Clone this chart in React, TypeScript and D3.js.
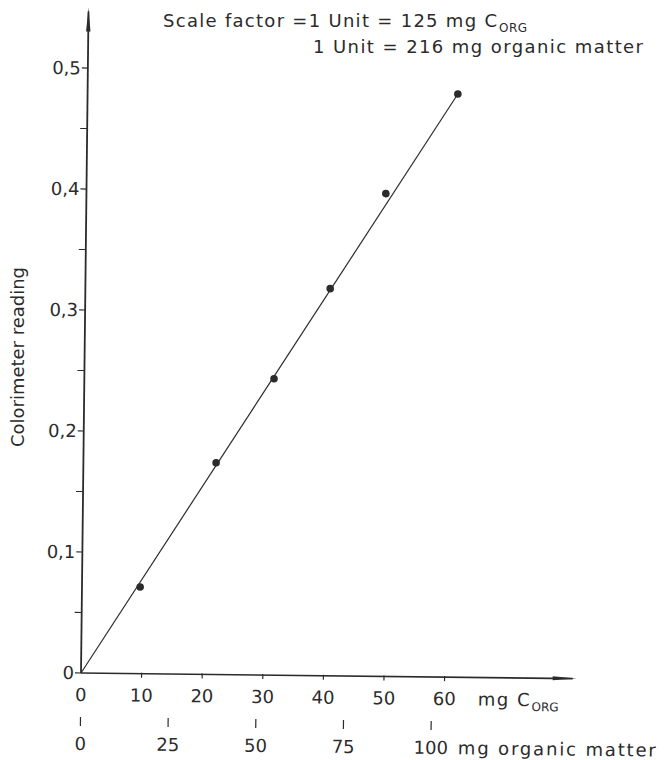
import React from "react";
import * as d3 from "d3";

// Data
const carbonMg: number[] = [9.6, 21.9, 31.3, 40.4, 49.4, 61.1];
const colorimeter: number[] = [0.0716, 0.175, 0.245, 0.32, 0.399, 0.482];
const fitX: number[] = [0, 61.1];
const fitY: number[] = [0, 0.482];
const yMajorTicks: number[] = [0, 0.1, 0.2, 0.3, 0.4, 0.5];
const yMinorTicks: number[] = [0.05, 0.15, 0.25, 0.35, 0.45];
const xTicks: number[] = [0, 10, 20, 30, 40, 50, 60];
const omTicks: number[] = [0, 25, 50, 75, 100];
const mgCPerUnit = 125;
const mgOMPerUnit = 216;

const W = 668;
const H = 760;
const FONT = "'DejaVu Sans', 'Liberation Sans', sans-serif";
const INK = "#2b2b2b";

export default function App() {
  const ox = 81;
  const oy = 673;
  const x = d3.scaleLinear().domain([0, 10]).range([ox, ox + 60.6]);
  const y = d3.scaleLinear().domain([0, 0.5]).range([oy, oy - 605]);
  const xOM = d3
    .scaleLinear()
    .domain([0, 100])
    .range([x(0), x((100 * mgCPerUnit) / mgOMPerUnit)]);

  const line = d3
    .line<number>()
    .x((d) => x(fitX[d]))
    .y((d) => y(fitY[d]));

  const yTop = y(0.55);
  const xEnd = x(81.8);
  const fmt = (v: number) => (v === 0 ? "0" : d3.format(".1f")(v).replace(".", ","));

  return (
    <svg
      width={W}
      height={H}
      style={{ position: "absolute", left: 0, top: 0, background: "#fff" }}
      fontFamily={FONT}
    >
      <rect x={0} y={0} width={W} height={H} fill="#fff" />
      <g transform={`rotate(0.65, ${ox}, ${oy})`}>
        {/* y axis */}
        <line x1={x(0)} y1={y(0)} x2={x(0)} y2={yTop + 4} stroke={INK} strokeWidth={1.8} />
        <path
          d={`M${x(0)},${yTop} L${x(0) - 2.2},${yTop + 24} L${x(0) + 2.2},${yTop + 24} Z`}
          fill={INK}
        />
        {/* x axis */}
        <line x1={x(0)} y1={y(0)} x2={xEnd - 4} y2={y(0)} stroke={INK} strokeWidth={1.6} />
        <path
          d={`M${xEnd},${y(0)} L${xEnd - 24},${y(0) - 2} L${xEnd - 24},${y(0) + 2} Z`}
          fill={INK}
        />
        {/* y ticks */}
        {yMajorTicks.map((t) => (
          <g key={"ym" + t}>
            <line x1={x(0) - 6} x2={x(0)} y1={y(t)} y2={y(t)} stroke={INK} strokeWidth={1.2} />
            <text
              x={x(0) - 7}
              y={y(t)}
              dy="0.35em"
              textAnchor="end"
              fontSize={18}
              fill={INK}
            >
              {fmt(t)}
            </text>
          </g>
        ))}
        {yMinorTicks.map((t) => (
          <line
            key={"yn" + t}
            x1={x(0) - 7}
            x2={x(0)}
            y1={y(t)}
            y2={y(t)}
            stroke={INK}
            strokeWidth={1.1}
          />
        ))}
        {/* x ticks, mg C */}
        {xTicks.map((t) => (
          <g key={"xt" + t}>
            {t > 0 && (
              <line x1={x(t)} x2={x(t)} y1={y(0) - 1} y2={y(0) + 4} stroke={INK} strokeWidth={1.2} />
            )}
            <text x={x(t)} y={y(0) + 28} textAnchor="middle" fontSize={18} fill={INK}>
              {t}
            </text>
          </g>
        ))}
        <text
          x={x(0) + 397}
          y={y(0) + 28}
          fontSize={18}
          fill={INK}
          textLength={52}
          lengthAdjust="spacing"
        >
          mg C
        </text>
        <text
          x={x(0) + 451}
          y={y(0) + 33}
          fontSize={12}
          fill={INK}
          textLength={27}
          lengthAdjust="spacing"
        >
          ORG
        </text>
        {/* organic matter scale */}
        {omTicks.map((t) => (
          <g key={"om" + t}>
            <line
              x1={xOM(t)}
              x2={xOM(t)}
              y1={y(0) + 44}
              y2={y(0) + 53}
              stroke={INK}
              strokeWidth={1.2}
            />
            <text x={xOM(t)} y={y(0) + 77} textAnchor="middle" fontSize={18} fill={INK}>
              {t}
            </text>
          </g>
        ))}
        <text
          x={xOM(100) + 27}
          y={y(0) + 77}
          fontSize={18}
          fill={INK}
          textLength={198}
          lengthAdjust="spacing"
        >
          mg organic matter
        </text>
        {/* fitted line */}
        <path d={line([0, 1]) || ""} fill="none" stroke={INK} strokeWidth={1.2} />
        {/* points */}
        {carbonMg.map((c, i) => (
          <circle key={"p" + i} cx={x(c)} cy={y(colorimeter[i])} r={3.8} fill={INK} />
        ))}
      </g>
      {/* titles */}
      <text x={163} y={27} fontSize={18} fill={INK} textLength={334} lengthAdjust="spacing">
        Scale factor =1 Unit = 125 mg C
      </text>
      <text x={499} y={32} fontSize={12} fill={INK} textLength={28} lengthAdjust="spacing">
        ORG
      </text>
      <text x={313} y={53} fontSize={18} fill={INK} textLength={330} lengthAdjust="spacing">
        1 Unit = 216 mg organic matter
      </text>
      <text
        transform={`translate(24, 357) rotate(-90)`}
        textAnchor="middle"
        fontSize={18}
        fill={INK}
        textLength={180}
        lengthAdjust="spacing"
      >
        Colorimeter reading
      </text>
    </svg>
  );
}
